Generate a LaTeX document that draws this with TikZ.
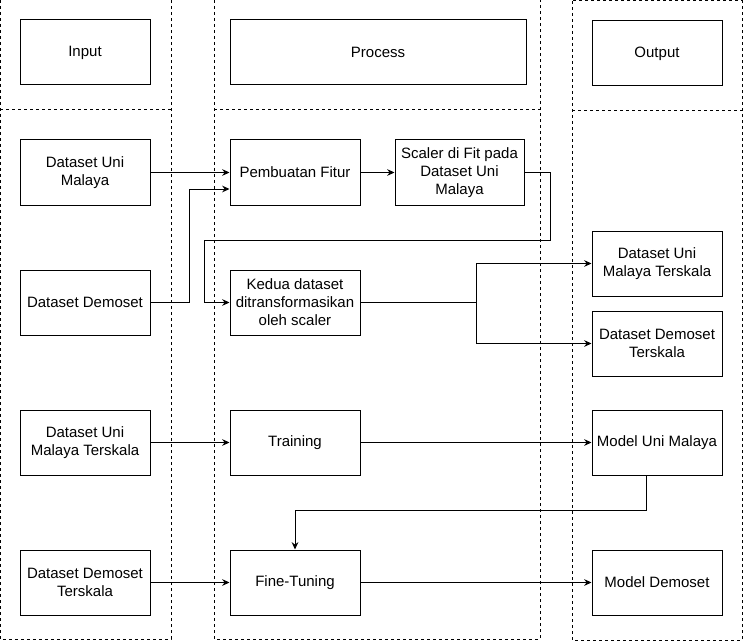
\documentclass[tikz,border=0pt]{standalone}
\usepackage{fontspec}
\setmainfont{Liberation Sans}
\usetikzlibrary{arrows.meta}

\begin{document}
\begin{tikzpicture}[x=0.75pt,y=-0.75pt,
	box/.style={draw,line width=0.75pt,minimum width=97.5pt,minimum height=48.75pt,align=center,font=\fontsize{11.25}{13.5}\selectfont,inner sep=1pt},
	lane/.style={draw,line width=0.75pt,dash pattern=on 2.25pt off 2.25pt},
	arr/.style={line width=0.75pt,-{Stealth[length=5.5pt,width=5pt]}}]
				
				\useasboundingbox (0,0) rectangle (747,642);
				
				\draw[lane] (0,0) rectangle (171,639);
				\draw[lane] (0,110) -- (171,110);
				\draw[lane] (214,0) rectangle (540,639);
				\draw[lane] (214,110) -- (540,110);
				\draw[lane] (572,1) rectangle (742,640);
				\draw[lane] (572,111) -- (742,111);
				
				\node[box] (I0) at (85,52.5) {Input};
				\node[box,minimum width=222pt] (P0) at (378,52.5) {Process};
				\node[box] (O0) at (657,53.5) {Output};
				
				\node[box] (I1) at (85,172.5) {Dataset Uni\\Malaya};
				\node[box] (P1) at (295,172.5) {Pembuatan Fitur};
				\node[box,minimum width=96.75pt] (P2) at (459.5,172.5) {Scaler di Fit pada\\Dataset Uni\\Malaya};
				
				\node[box] (I2) at (85,302.5) {Dataset Demoset};
				\node[box] (P3) at (295,302.5) {Kedua dataset\\ditransformasikan\\oleh scaler};
				\node[box] (O1) at (657,263.5) {Dataset Uni\\Malaya Terskala};
				\node[box] (O2) at (657,343.5) {Dataset Demoset\\Terskala};
				
				\node[box] (I3) at (85,442.5) {Dataset Uni\\Malaya Terskala};
				\node[box] (P4) at (295,442.5) {Training};
				\node[box] (O3) at (657,442.5) {Model Uni Malaya};
				
				\node[box] (I4) at (85,582.5) {Dataset Demoset\\Terskala};
				\node[box] (P5) at (295,582.5) {Fine-Tuning};
				\node[box] (O4) at (657,582.5) {Model Demoset};
				
				\coordinate (K1) at (189,189);
				\coordinate (K2) at (550,240);
				\coordinate (K3) at (204,240);
				\coordinate (K4) at (476,302.5);
				\coordinate (K5) at (646,510);
				
				\draw[arr] (I1) -- (P1);
				\draw[arr] (I2) -| (K1) -- (K1 -| P1.west);
				\draw[arr] (P1) -- (P2);
				\draw[arr] (P2) -| (K2) -- (K3) |- (P3);
				\draw[arr] (P3) -- (K4) |- (O1);
				\draw[arr] (P3) -- (K4) |- (O2);
				
				\draw[arr] (I3) -- (P4);
				\draw[arr] (P4) -- (O3);
				\draw[arr] (O3.south -| K5) -- (K5) -| (P5);
				\draw[arr] (I4) -- (P5);
				\draw[arr] (P5) -- (O4);
				
			\end{tikzpicture}
\end{document}
